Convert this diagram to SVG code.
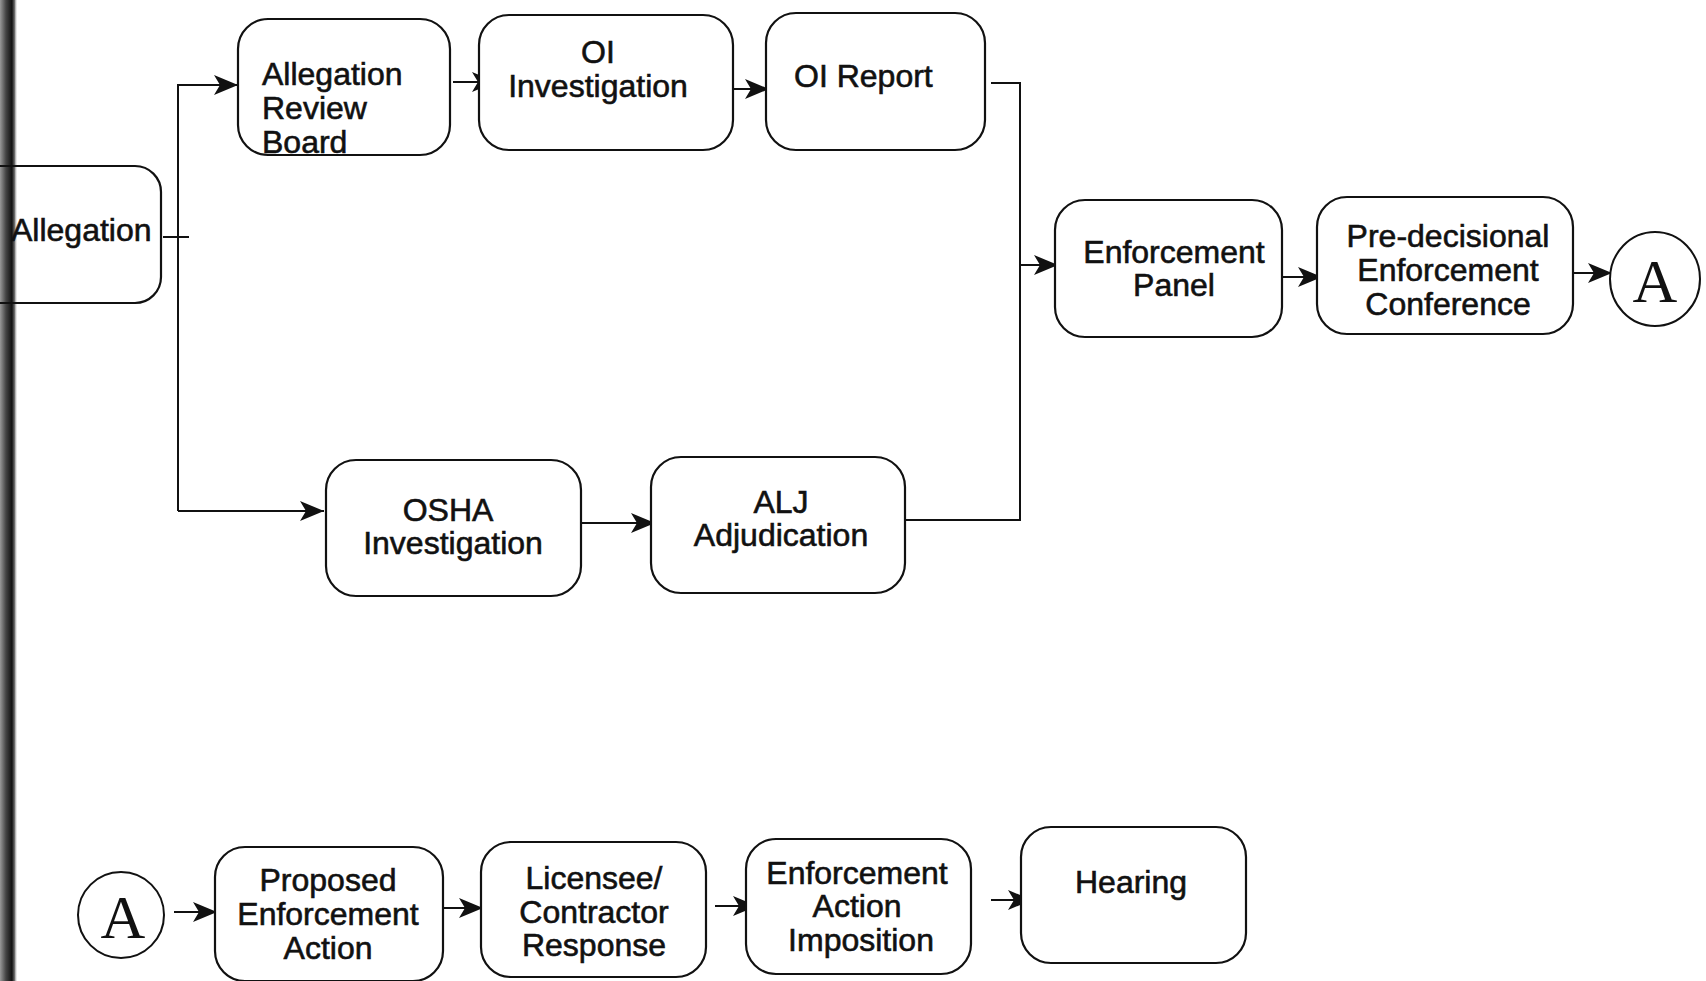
<svg xmlns="http://www.w3.org/2000/svg" width="1706" height="981" viewBox="0 0 1706 981">
<style>
.box{fill:#fff;stroke:#111;stroke-width:2.2}
.t{font-family:"Liberation Sans",Arial,sans-serif;font-size:32px;fill:#111;stroke:#111;stroke-width:0.6}
.c{text-anchor:middle}
.ln{fill:none;stroke:#111;stroke-width:2}
.a{font-family:"Liberation Serif","Times New Roman",serif;font-size:62px;fill:#111;text-anchor:middle}
</style>
<defs>
<marker id="ar" markerUnits="userSpaceOnUse" markerWidth="26" markerHeight="20" refX="24" refY="10" orient="auto">
<path d="M0,0 L24,10 L0,20 L6,10 z" fill="#111"/>
</marker>
<linearGradient id="band" x1="0" x2="1" y1="0" y2="0">
<stop offset="0" stop-color="#999"/>
<stop offset="0.35" stop-color="#444"/>
<stop offset="0.7" stop-color="#111"/>
<stop offset="0.85" stop-color="#666"/>
<stop offset="1" stop-color="#ddd" stop-opacity="0.3"/>
</linearGradient>
</defs>
<rect width="1706" height="981" fill="#fff"/>
<g id="connectors">
<line class="ln" x1="163" y1="237" x2="189" y2="237"/>
<polyline class="ln" points="178,511 178,85 238,85" marker-end="url(#ar)"/>
<line class="ln" x1="178" y1="511" x2="324" y2="511" marker-end="url(#ar)"/>
<line class="ln" x1="453" y1="82" x2="496" y2="82" marker-end="url(#ar)"/>
<line class="ln" x1="733" y1="89" x2="769" y2="89" marker-end="url(#ar)"/>
<polyline class="ln" points="991,83 1020,83 1020,520 905,520"/>
<line class="ln" x1="1020" y1="265" x2="1058" y2="265" marker-end="url(#ar)"/>
<line class="ln" x1="580" y1="523" x2="655" y2="523" marker-end="url(#ar)"/>
<line class="ln" x1="1283" y1="277" x2="1322" y2="277" marker-end="url(#ar)"/>
<line class="ln" x1="1574" y1="273" x2="1612" y2="273" marker-end="url(#ar)"/>
<line class="ln" x1="174" y1="912" x2="217" y2="912" marker-end="url(#ar)"/>
<line class="ln" x1="443" y1="908" x2="483" y2="908" marker-end="url(#ar)"/>
<line class="ln" x1="715" y1="906" x2="757" y2="906" marker-end="url(#ar)"/>
<line class="ln" x1="991" y1="900" x2="1032" y2="900" marker-end="url(#ar)"/>
</g>
<g id="scan-edge">
<rect x="0" y="0" width="17" height="981" fill="url(#band)"/>
</g>
<g id="allegation">
<rect class="box" x="-30" y="166" width="191" height="137" rx="26" fill="none" style="fill:none"/>
<text class="t" x="11" y="241" font-size="31">Allegation</text>
</g>
<g id="allegation-review-board">
<rect class="box" x="238" y="19" width="212" height="136" rx="30"/>
<text class="t" x="262" y="85">Allegation</text>
<text class="t" x="262" y="119">Review</text>
<text class="t" x="262" y="153">Board</text>
</g>
<g id="oi-investigation">
<rect class="box" x="479" y="15" width="254" height="135" rx="30"/>
<text class="t c" x="598" y="63">OI</text>
<text class="t c" x="598" y="97">Investigation</text>
</g>
<g id="oi-report">
<rect class="box" x="766" y="13" width="219" height="137" rx="30"/>
<text class="t" x="794" y="87">OI Report</text>
</g>
<g id="enforcement-panel">
<rect class="box" x="1055" y="200" width="227" height="137" rx="30"/>
<text class="t c" x="1174" y="263">Enforcement</text>
<text class="t c" x="1174" y="296">Panel</text>
</g>
<g id="pre-decisional-conference">
<rect class="box" x="1317" y="197" width="256" height="137" rx="30"/>
<text class="t c" x="1448" y="247">Pre-decisional</text>
<text class="t c" x="1448" y="281">Enforcement</text>
<text class="t c" x="1448" y="315">Conference</text>
</g>
<g id="connector-a-top">
<ellipse cx="1655" cy="279" rx="45" ry="47" fill="#fff" stroke="#111" stroke-width="2"/>
<text class="a" x="1655" y="302">A</text>
</g>
<g id="osha-investigation">
<rect class="box" x="326" y="460" width="255" height="136" rx="30"/>
<text class="t c" x="448" y="521">OSHA</text>
<text class="t c" x="453" y="554">Investigation</text>
</g>
<g id="alj-adjudication">
<rect class="box" x="651" y="457" width="254" height="136" rx="30"/>
<text class="t c" x="781" y="513">ALJ</text>
<text class="t c" x="781" y="546">Adjudication</text>
</g>
<g id="connector-a-bottom">
<circle cx="121" cy="915" r="43" fill="#fff" stroke="#111" stroke-width="2"/>
<text class="a" x="123" y="938">A</text>
</g>
<g id="proposed-enforcement-action">
<rect class="box" x="215" y="847" width="228" height="134" rx="30"/>
<text class="t c" x="328" y="891">Proposed</text>
<text class="t c" x="328" y="925">Enforcement</text>
<text class="t c" x="328" y="959">Action</text>
</g>
<g id="licensee-contractor-response">
<rect class="box" x="481" y="842" width="225" height="135" rx="30"/>
<text class="t c" x="594" y="889">Licensee/</text>
<text class="t c" x="594" y="923">Contractor</text>
<text class="t c" x="594" y="956">Response</text>
</g>
<g id="enforcement-action-imposition">
<rect class="box" x="746" y="839" width="225" height="135" rx="30"/>
<text class="t c" x="857" y="884">Enforcement</text>
<text class="t c" x="857" y="917">Action</text>
<text class="t c" x="861" y="951">Imposition</text>
</g>
<g id="hearing">
<rect class="box" x="1021" y="827" width="225" height="136" rx="30"/>
<text class="t c" x="1131" y="893">Hearing</text>
</g>
</svg>
